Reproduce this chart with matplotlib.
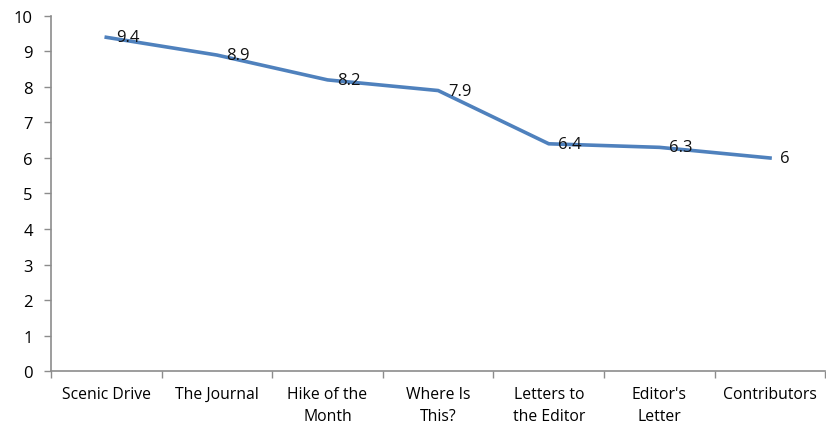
import matplotlib
matplotlib.use("Agg")
import matplotlib.pyplot as plt
from matplotlib.ticker import FixedLocator

categories = ["Scenic Drive", "The Journal", "Hike of the\nMonth", "Where Is\nThis?",
              "Letters to\nthe Editor", "Editor's\nLetter", "Contributors"]
scores = [9.4, 8.9, 8.2, 7.9, 6.4, 6.3, 6]
value_labels = ["9.4", "8.9", "8.2", "7.9", "6.4", "6.3", "6"]
y_ticks = list(range(0, 11))

plt.rcParams['font.family'] = ['Open Sans', 'DejaVu Sans']

fig = plt.figure(figsize=(8.26, 4.27), dpi=100)
ax = fig.add_axes([0.0617, 0.1288, 0.9375, 0.8314])

x = list(range(len(categories)))
ax.plot(x, scores, color="#4F81BD", linewidth=2.6, solid_joinstyle="round")

for xi, yi, lab in zip(x, scores, value_labels):
    ax.annotate(lab, (xi, yi), xytext=(7, 0), textcoords="offset points",
                ha="left", va="center", fontsize=12, color="#111111")

ax.set_xlim(-0.5, len(categories) - 0.5)
ax.set_ylim(0, 10)
ax.set_yticks(y_ticks)
ax.set_yticklabels([str(t) for t in y_ticks], fontsize=12)

ax.set_xticks(x)
ax.set_xticklabels(categories, fontsize=11.3, linespacing=1.5)
ax.tick_params(axis="x", which="major", length=0, pad=11)
ax.xaxis.set_minor_locator(FixedLocator([i + 0.5 for i in range(-1, len(categories))]))
ax.tick_params(axis="x", which="minor", length=5, color="#8c8c8c", width=1)
ax.tick_params(axis="y", length=5, color="#8c8c8c", width=1, pad=8)

for side in ("top", "right"):
    ax.spines[side].set_visible(False)
for side in ("left", "bottom"):
    ax.spines[side].set_color("#8c8c8c")
    ax.spines[side].set_linewidth(1.2)

fig.savefig("out.png", dpi=100)
